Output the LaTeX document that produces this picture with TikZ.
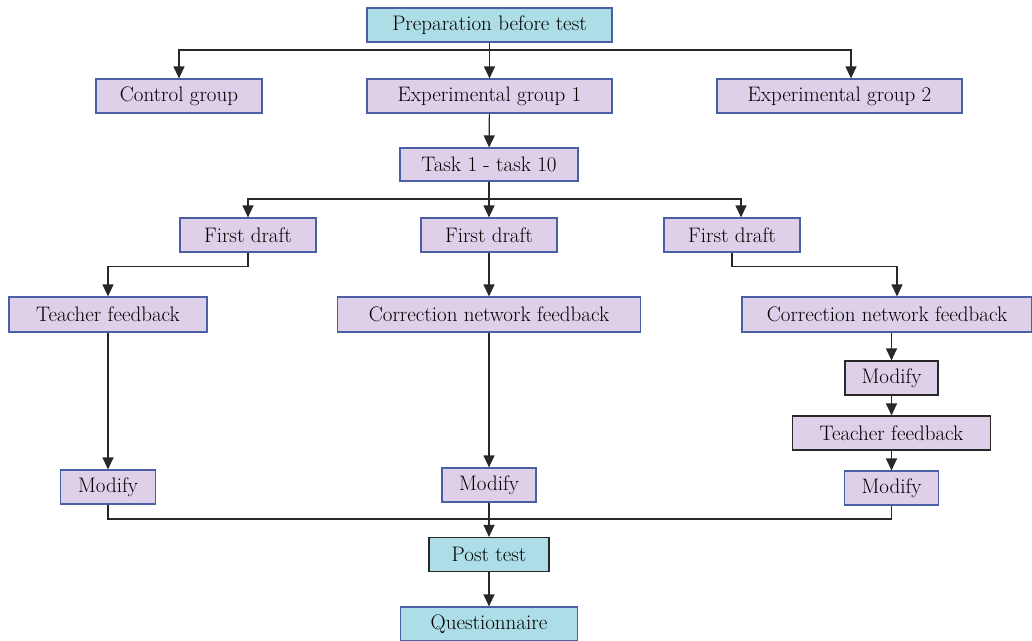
\documentclass[tikz,border=0pt]{standalone}
\usetikzlibrary{arrows.meta}
\definecolor{lilac}{RGB}{221,208,232}
\definecolor{paleblue}{RGB}{173,221,230}
\definecolor{rimblue}{RGB}{74,95,165}
\definecolor{linegray}{RGB}{40,40,40}
\tikzset{
	flowbox/.style = {align=center, inner sep=0pt, text centered, font=\fontsize{21}{24}\selectfont, text=black, draw=rimblue, line width=1.2pt, minimum height=34pt},
	stagebox/.style = {flowbox, fill=lilac},
	testbox/.style = {flowbox, fill=paleblue},
	darkrim/.style = {draw=linegray},
	link/.style = {draw=linegray, line width=1.2pt},
	flow/.style = {link, -{Triangle[width=11pt,length=12pt]}}
}
\begin{document}
\begin{tikzpicture}[x=1pt, y=-1pt]
		\useasboundingbox (0,0) rectangle (1032,640);
		% top of the study
		\node [testbox, minimum width=245pt] (prep) at (489.5,25) {Preparation before test};
		\node [stagebox, minimum width=166pt] (ctrl) at (179,96) {Control group};
		\node [stagebox, minimum width=245pt] (exp1) at (489.5,96) {Experimental group 1};
		\node [stagebox, minimum width=245pt] (exp2) at (839.5,96) {Experimental group 2};
		\node [stagebox, minimum width=178pt, minimum height=33pt] (task) at (489,164.5) {Task 1 - task 10};
		% three ways of feedback
		\node [stagebox, minimum width=136pt] (fdA) at (248,235) {First draft};
		\node [stagebox, minimum width=136pt] (fdB) at (489,235) {First draft};
		\node [stagebox, minimum width=136pt] (fdC) at (732,235) {First draft};
		\node [stagebox, minimum width=198pt, minimum height=35pt] (tfA) at (108,314.5) {Teacher feedback};
		\node [stagebox, minimum width=303pt, minimum height=35pt] (cnB) at (489,314.5) {Correction network feedback};
		\node [stagebox, minimum width=290pt, minimum height=35pt] (cnC) at (887,314.5) {Correction network feedback};
		\node [stagebox, darkrim, minimum width=93pt] (modC1) at (891.5,378) {Modify};
		\node [stagebox, darkrim, minimum width=198pt] (tfC) at (891.5,433) {Teacher feedback};
		\node [stagebox, minimum width=94pt] (modC2) at (891.5,488) {Modify};
		\node [stagebox, minimum width=95pt] (modA) at (108,487) {Modify};
		\node [stagebox, minimum width=94pt] (modB) at (489,485) {Modify};
		% end of the study
		\node [testbox, darkrim, minimum width=120pt] (post) at (489,554.5) {Post test};
		\node [testbox, minimum width=177pt] (quest) at (489,624) {Questionnaire};

		\coordinate (splitA) at (489.5,50);
		\coordinate (splitB) at (489,199);
		\coordinate (joinD) at (489,519);

		\draw [flow] (prep) -- (exp1);
		\draw [flow] (splitA) -| (ctrl.north);
		\draw [flow] (splitA) -| ([xshift=11.5pt]exp2.north);
		\draw [flow] (exp1) -- (task);
		\draw [flow] (task) -- (fdB);
		\draw [flow] (splitB) -| (fdA.north);
		\draw [flow] (splitB) -| ([xshift=9pt]fdC.north);
		\draw [flow] (fdA.south) -- ++(0,14) -| (tfA.north);
		\draw [flow] (fdB) -- (cnB);
		\draw [flow] (fdC.south) -- ++(0,14) -| ([xshift=10pt]cnC.north);
		\draw [flow] (tfA) -- (modA);
		\draw [flow] (cnB) -- (modB);
		\draw [flow] (cnC.south -| modC1) -- (modC1);
		\draw [flow] (modC1) -- (tfC);
		\draw [flow] (tfC) -- (modC2);
		\draw [link] (modA.south) |- (joinD) -| (modC2.south);
		\draw [flow] (modB) -- (post);
		\draw [flow] (post) -- (quest);
\end{tikzpicture}
\end{document}
